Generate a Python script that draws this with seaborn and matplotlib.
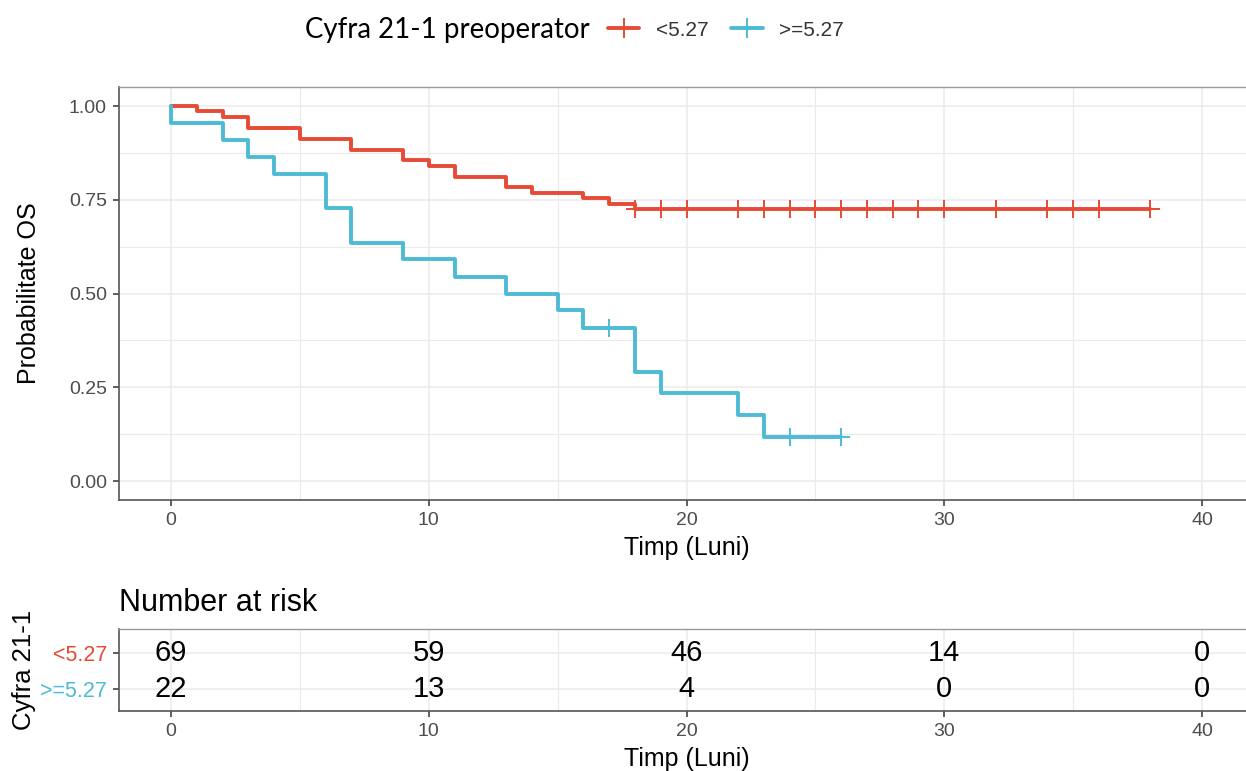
import matplotlib
matplotlib.use("Agg")
import matplotlib.pyplot as plt
from matplotlib.lines import Line2D
from matplotlib.ticker import MultipleLocator
import seaborn as sns
import pandas as pd

# ---------------- data ----------------
groups = ["<5.27", ">=5.27"]
colors = ["#E64B35", "#4DBBD5"]

red_times = [0, 1, 2, 3, 5, 7, 9, 10, 11, 13, 14, 16, 17, 18, 38]
red_surv = [1.0, 0.986, 0.971, 0.942, 0.913, 0.884, 0.855, 0.841, 0.812,
            0.783, 0.768, 0.754, 0.739, 0.725, 0.725]
blue_times = [0, 0, 2, 3, 4, 6, 7, 9, 11, 13, 15, 16, 18, 19, 22, 23, 26]
blue_surv = [1.0, 0.955, 0.909, 0.864, 0.818, 0.727, 0.636, 0.591, 0.545,
             0.5, 0.455, 0.409, 0.292, 0.234, 0.175, 0.117, 0.117]

red_cens_t = [18, 19, 20, 22, 23, 24, 25, 26, 27, 28, 29, 30, 32, 34, 35, 36, 38]
red_cens_s = [0.725] * len(red_cens_t)
blue_cens_t = [17, 24, 26]
blue_cens_s = [0.409, 0.117, 0.117]

risk_times = [0, 10, 20, 30, 40]
risk_red = [69, 59, 46, 14, 0]
risk_blue = [22, 13, 4, 0, 0]

x_ticks = [0, 10, 20, 30, 40]
y_ticks = [0.0, 0.25, 0.50, 0.75, 1.00]
y_ticklabels = ["0.00", "0.25", "0.50", "0.75", "1.00"]

curve_df = pd.concat([
    pd.DataFrame({"time": red_times, "surv": red_surv, "grp": groups[0]}),
    pd.DataFrame({"time": blue_times, "surv": blue_surv, "grp": groups[1]}),
], ignore_index=True)
cens_df = pd.concat([
    pd.DataFrame({"time": red_cens_t, "surv": red_cens_s, "grp": groups[0]}),
    pd.DataFrame({"time": blue_cens_t, "surv": blue_cens_s, "grp": groups[1]}),
], ignore_index=True)

# ---------------- style ----------------
sns.set_theme(style="white")
plt.rcParams["font.family"] = ["Liberation Sans", "DejaVu Sans"]

W, H = 1246, 771
fig = plt.figure(figsize=(W / 100, H / 100), dpi=100)

def frac(left, top, right, bottom):
    return [left / W, 1 - bottom / H, (right - left) / W, (bottom - top) / H]

ax = fig.add_axes(frac(119.4, 87.3, 1253.6, 499.8))
axr = fig.add_axes(frac(119.4, 629, 1253.6, 711))

pal = dict(zip(groups, colors))

sns.lineplot(data=curve_df, x="time", y="surv", hue="grp", palette=pal,
             estimator=None, sort=False, drawstyle="steps-post",
             linewidth=2.8, legend=False, ax=ax)
sns.scatterplot(data=cens_df, x="time", y="surv", hue="grp", palette=pal,
                marker="+", s=170, linewidth=1.4, legend=False, ax=ax, zorder=5)

tick_color = "#4D4D4D"
grid_color = "#EBEBEB"

def style_axes(a):
    a.set_xlim(-2, 42)
    a.xaxis.set_major_locator(MultipleLocator(10))
    a.xaxis.set_minor_locator(MultipleLocator(5))
    a.grid(which="major", color=grid_color, linewidth=1.1)
    a.grid(which="minor", color=grid_color, linewidth=0.8)
    a.set_axisbelow(True)
    for side in ["left", "bottom"]:
        a.spines[side].set_color("#555555")
        a.spines[side].set_linewidth(1.2)
    for side in ["top", "right"]:
        a.spines[side].set_color("#9A9A9A")
        a.spines[side].set_linewidth(1.0)
    a.tick_params(axis="both", which="major", direction="out", length=4,
                  width=1.1, color="#333333", labelcolor=tick_color,
                  labelsize=14, pad=5, bottom=True, left=True)
    a.tick_params(axis="both", which="minor", length=0)
    a.set_xticks(x_ticks)
    a.set_xlabel("Timp (Luni)", fontsize=18, color="black", labelpad=5)

style_axes(ax)
ax.set_ylim(-0.05, 1.05)
ax.set_yticks(y_ticks)
ax.set_yticklabels(y_ticklabels)
ax.yaxis.set_minor_locator(MultipleLocator(0.125))
ax.set_ylabel("Probabilitate OS", fontsize=18, color="black", labelpad=20)

# ---------------- risk table ----------------
style_axes(axr)
axr.set_ylim(0.39, 2.67)
axr.set_yticks([2, 1])
axr.set_yticklabels(groups, fontsize=15.5)
axr.yaxis.set_minor_locator(MultipleLocator(10))
axr.grid(which="minor", axis="y", visible=False)
for lbl, c in zip(axr.get_yticklabels(), colors):
    lbl.set_color(c)
for t, n in zip(risk_times, risk_red):
    axr.text(t, 2, str(n), ha="center", va="center", fontsize=21, color="black")
for t, n in zip(risk_times, risk_blue):
    axr.text(t, 1, str(n), ha="center", va="center", fontsize=21, color="black")
axr.set_ylabel("Cyfra 21-1", fontsize=18.5, color="black", labelpad=3)
axr.set_title("Number at risk", loc="left", fontsize=22, color="black", pad=13)

# ---------------- legend ----------------
fig.text(305 / W, 1 - 30 / H, "Cyfra 21-1 preoperator", fontsize=19.9,
         family=["Lato", "DejaVu Sans"], ha="left", va="center", color="black")
handles = [Line2D([0], [0], color=c, linewidth=2.8, marker="+", markersize=14,
                  markeredgewidth=1.4) for c in colors]
fig.legend(handles, groups, loc="center left", bbox_to_anchor=(608 / W, 1 - 30 / H),
           ncol=2, frameon=False, fontsize=15, handlelength=1.5, handletextpad=0.8,
           columnspacing=1.1, borderaxespad=0, borderpad=0,
           labelcolor="#333333")

fig.savefig("out.png", dpi=100)
